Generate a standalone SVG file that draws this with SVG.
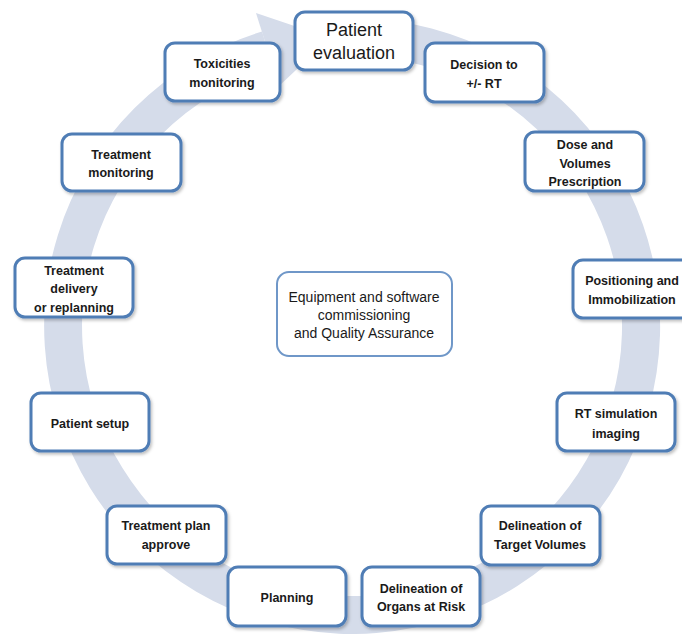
<svg xmlns="http://www.w3.org/2000/svg" width="682" height="634" viewBox="0 0 682 634">
<style>
.box{fill:#ffffff;stroke:#4f7db5;stroke-width:3;filter:url(#sh)}
.cbox{fill:#ffffff;stroke:#6f97c8;stroke-width:2}
.t{font-family:"Liberation Sans",Arial,sans-serif;font-size:12.5px;font-weight:bold;fill:#1a1a1a;text-anchor:middle}
.big{font-family:"Liberation Sans",Arial,sans-serif;font-size:18px;fill:#1a1a1a;text-anchor:middle}
.c{font-family:"Liberation Sans",Arial,sans-serif;font-size:14px;fill:#1a1a1a;text-anchor:middle}
.ring{fill:#d5dcea}
</style>
<defs>
<filter id="sh" x="-10%" y="-10%" width="125%" height="130%">
<feDropShadow dx="1.5" dy="2" stdDeviation="1.5" flood-color="#000000" flood-opacity="0.25"/>
</filter>
</defs>
<rect width="682" height="634" fill="#ffffff"/>
<g id="connectors">
<path class="ring" d="M 394.9 21 A 308 308 0 1 1 262 31.5 L 273 67.8 A 270 270 0 1 0 389.6 58.6 Z"/>
<path class="ring" d="M 256 13 L 330 38 L 279 86 Z"/>
</g>
<g id="n1"><rect class="box" x="295" y="12" width="118" height="58" rx="10"/><text class="big" x="354" y="36">Patient</text><text class="big" x="354" y="59">evaluation</text></g>
<g id="n2"><rect class="box" x="425" y="43" width="119" height="59" rx="10"/><text class="t" x="484" y="69">Decision to</text><text class="t" x="484" y="88">+/- RT</text></g>
<g id="n3"><rect class="box" x="525" y="132" width="119" height="59" rx="10"/><text class="t" x="585" y="149">Dose and</text><text class="t" x="585" y="168">Volumes</text><text class="t" x="585" y="186">Prescription</text></g>
<g id="n4"><rect class="box" x="573" y="260" width="120" height="58" rx="10"/><text class="t" x="632" y="285">Positioning and</text><text class="t" x="632" y="304">Immobilization</text></g>
<g id="n5"><rect class="box" x="557" y="393" width="118" height="58" rx="10"/><text class="t" x="616" y="418">RT simulation</text><text class="t" x="616" y="438">imaging</text></g>
<g id="n6"><rect class="box" x="481" y="506" width="119" height="59" rx="10"/><text class="t" x="540" y="530">Delineation of</text><text class="t" x="540" y="549">Target Volumes</text></g>
<g id="n7"><rect class="box" x="362" y="567" width="118" height="59" rx="10"/><text class="t" x="421" y="593">Delineation of</text><text class="t" x="421" y="611">Organs at Risk</text></g>
<g id="n8"><rect class="box" x="228" y="567" width="118" height="59" rx="10"/><text class="t" x="287" y="602">Planning</text></g>
<g id="n9"><rect class="box" x="107" y="506" width="119" height="58" rx="10"/><text class="t" x="166" y="530">Treatment plan</text><text class="t" x="166" y="549">approve</text></g>
<g id="n10"><rect class="box" x="31" y="393" width="118" height="58" rx="10"/><text class="t" x="90" y="428">Patient setup</text></g>
<g id="n11"><rect class="box" x="15" y="258" width="118" height="59" rx="10"/><text class="t" x="74" y="275">Treatment</text><text class="t" x="74" y="293">delivery</text><text class="t" x="74" y="312">or replanning</text></g>
<g id="n12"><rect class="box" x="62" y="134" width="119" height="57" rx="10"/><text class="t" x="121" y="159">Treatment</text><text class="t" x="121" y="177">monitoring</text></g>
<g id="n13"><rect class="box" x="165" y="43" width="115" height="58" rx="10"/><text class="t" x="222" y="68">Toxicities</text><text class="t" x="222" y="87">monitoring</text></g>
<g id="center"><rect class="cbox" x="277" y="272" width="175" height="84" rx="12"/><text class="c" x="364" y="302">Equipment and software</text><text class="c" x="364" y="320">commissioning</text><text class="c" x="364" y="338">and Quality Assurance</text></g>
</svg>
